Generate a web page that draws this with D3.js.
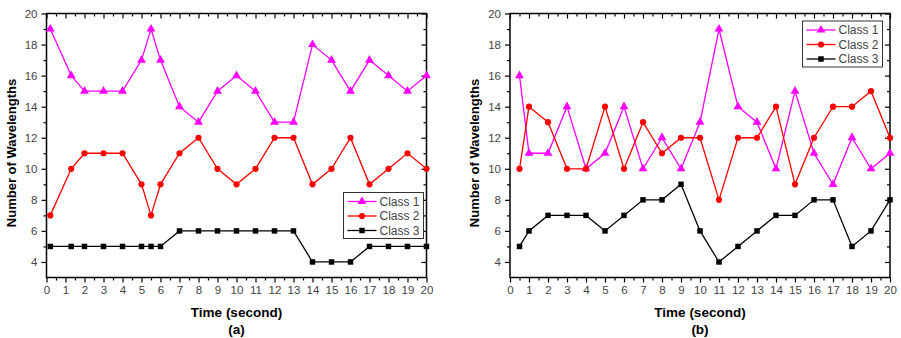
<!DOCTYPE html>
<html>
<head>
<meta charset="utf-8">
<script src="https://cdn.jsdelivr.net/npm/d3@7"></script>
<style>
  body { margin: 0; background: #fff; }
  svg { display: block; font-family: "Liberation Sans", Arial, sans-serif; }
</style>
</head>
<body>
<svg id="chart" width="901" height="338"></svg>
<script>
// Data.
var timeA = [0.2, 1.3, 2, 3, 4, 5, 5.5, 6, 7, 8, 9, 10, 11, 12, 13, 14, 15, 16, 17, 18, 19, 20];
var class1A = [19, 16, 15, 15, 15, 17, 19, 17, 14, 13, 15, 16, 15, 13, 13, 18, 17, 15, 17, 16, 15, 16];
var class2A = [7, 10, 11, 11, 11, 9, 7, 9, 11, 12, 10, 9, 10, 12, 12, 9, 10, 12, 9, 10, 11, 10];
var class3A = [5, 5, 5, 5, 5, 5, 5, 5, 6, 6, 6, 6, 6, 6, 6, 4, 4, 4, 5, 5, 5, 5];

var timeB = [0.5, 1, 2, 3, 4, 5, 6, 7, 8, 9, 10, 11, 12, 13, 14, 15, 16, 17, 18, 19, 20];
var class1B = [16, 11, 11, 14, 10, 11, 14, 10, 12, 10, 13, 19, 14, 13, 10, 15, 11, 9, 12, 10, 11];
var class2B = [10, 14, 13, 10, 10, 14, 10, 13, 11, 12, 12, 8, 12, 12, 14, 9, 12, 14, 14, 15, 12];
var class3B = [5, 6, 7, 7, 7, 6, 7, 8, 8, 9, 6, 4, 5, 6, 7, 7, 8, 8, 5, 6, 8];

var seriesNames = ["Class 1", "Class 2", "Class 3"];
var seriesColors = ["#ff00ff", "#ff0000", "#000000"];
var seriesShapes = [d3.symbolTriangle, d3.symbolCircle, d3.symbolSquare];
var seriesSizes = [34, 30, 30];

var xTicks = d3.range(0, 21);
var yTicks = [4, 6, 8, 10, 12, 14, 16, 18, 20];

var svg = d3.select("#chart");
var textColor = "#444";

// Draw one panel.
function drawPanel(opts) {
  var xScale = d3.scaleLinear().domain([0, 20]).range([opts.left, opts.left + 380]);
  var yScale = d3.scaleLinear().domain([3, 20]).range([277.5, 13.5]);
  var g = svg.append("g");

  var xMinor = d3.range(0.5, 20, 1);
  var yMinor = d3.range(5, 20, 2);

  // Bottom and left axes, ticks outward.
  g.append("g")
    .attr("transform", "translate(0," + yScale(3) + ")")
    .call(d3.axisBottom(xScale).tickValues(xTicks).tickSize(5).tickPadding(3).tickFormat(d3.format("d")));
  g.append("g")
    .attr("transform", "translate(0," + yScale(3) + ")")
    .call(d3.axisBottom(xScale).tickValues(xMinor).tickSize(3).tickFormat(""));
  g.append("g")
    .attr("transform", "translate(" + xScale(0) + ",0)")
    .call(d3.axisLeft(yScale).tickValues(yTicks).tickSize(5).tickPadding(4));
  g.append("g")
    .attr("transform", "translate(" + xScale(0) + ",0)")
    .call(d3.axisLeft(yScale).tickValues(yMinor).tickSize(3).tickFormat(""));

  // Mirrored axes, ticks pointing inward.
  g.append("g")
    .attr("transform", "translate(0," + yScale(20) + ")")
    .call(d3.axisBottom(xScale).tickValues(xTicks).tickSize(5).tickFormat(""));
  g.append("g")
    .attr("transform", "translate(0," + yScale(20) + ")")
    .call(d3.axisBottom(xScale).tickValues(xMinor).tickSize(3).tickFormat(""));
  g.append("g")
    .attr("transform", "translate(" + xScale(20) + ",0)")
    .call(d3.axisLeft(yScale).tickValues(yTicks).tickSize(5).tickFormat(""));
  g.append("g")
    .attr("transform", "translate(" + xScale(20) + ",0)")
    .call(d3.axisLeft(yScale).tickValues(yMinor).tickSize(3).tickFormat(""));

  // The frame is drawn as a rect below, so drop the axis paths.
  g.selectAll(".domain").remove();
  g.selectAll(".tick line").attr("stroke", "#000").attr("stroke-width", 1.2);
  g.selectAll(".tick text")
    .attr("fill", textColor)
    .style("font-size", "11.5px")
    .style("font-family", "'Liberation Sans', Arial, sans-serif");

  g.append("rect")
    .attr("x", xScale(0))
    .attr("y", yScale(20))
    .attr("width", xScale(20) - xScale(0))
    .attr("height", yScale(3) - yScale(20))
    .attr("fill", "none")
    .attr("stroke", "#000")
    .attr("stroke-width", 1.5);

  // Series lines and markers.
  var line = d3.line()
    .x(function(d) { return xScale(d.t); })
    .y(function(d) { return yScale(d.v); });

  opts.series.forEach(function(values, i) {
    var pts = values.map(function(v, j) { return { t: opts.time[j], v: v }; });
    g.append("path")
      .datum(pts)
      .attr("d", line)
      .attr("fill", "none")
      .attr("stroke", seriesColors[i])
      .attr("stroke-width", 1.3);
    g.selectAll(".m" + i)
      .data(pts)
      .enter()
      .append("path")
      .attr("transform", function(d) {
        return "translate(" + xScale(d.t) + "," + yScale(d.v) + ")";
      })
      .attr("d", d3.symbol().type(seriesShapes[i]).size(seriesSizes[i]))
      .attr("fill", seriesColors[i]);
  });

  // Legend.
  var lg = g.append("g")
    .attr("transform", "translate(" + opts.legendX + "," + opts.legendY + ")");
  lg.append("rect")
    .attr("width", 80)
    .attr("height", 46)
    .attr("fill", "#fff")
    .attr("stroke", "#333")
    .attr("stroke-width", 1);
  seriesNames.forEach(function(name, i) {
    var yy = 9 + i * 14.5;
    lg.append("line")
      .attr("x1", 4).attr("x2", 33)
      .attr("y1", yy).attr("y2", yy)
      .attr("stroke", seriesColors[i])
      .attr("stroke-width", 1.3);
    lg.append("path")
      .attr("transform", "translate(18.5," + yy + ")")
      .attr("d", d3.symbol().type(seriesShapes[i]).size(seriesSizes[i]))
      .attr("fill", seriesColors[i]);
    lg.append("text")
      .attr("x", 36)
      .attr("y", yy)
      .attr("dy", "0.36em")
      .attr("fill", textColor)
      .style("font-size", "12px")
      .text(name);
  });

  // Axis titles.
  g.append("text")
    .attr("transform", "translate(" + opts.yTitleX + ",153) rotate(-90)")
    .attr("text-anchor", "middle")
    .attr("dy", "0.35em")
    .style("font-size", "13px")
    .style("font-weight", "bold")
    .text("Number of Wavelengths");

  g.append("text")
    .attr("x", xScale(10))
    .attr("y", 312)
    .attr("dy", "0.35em")
    .attr("text-anchor", "middle")
    .style("font-size", "13.5px")
    .style("font-weight", "bold")
    .text("Time (second)");

  g.append("text")
    .attr("x", xScale(10))
    .attr("y", 329)
    .attr("dy", "0.35em")
    .attr("text-anchor", "middle")
    .style("font-size", "13.5px")
    .style("font-weight", "bold")
    .text(opts.label);
}

drawPanel({
  left: 46.5,
  time: timeA,
  series: [class1A, class2A, class3A],
  legendX: 343.5, legendY: 192.5,
  yTitleX: 11,
  label: "(a)"
});

drawPanel({
  left: 510,
  time: timeB,
  series: [class1B, class2B, class3B],
  legendX: 802.5, legendY: 21,
  yTitleX: 474,
  label: "(b)"
});
</script>
</body>
</html>
